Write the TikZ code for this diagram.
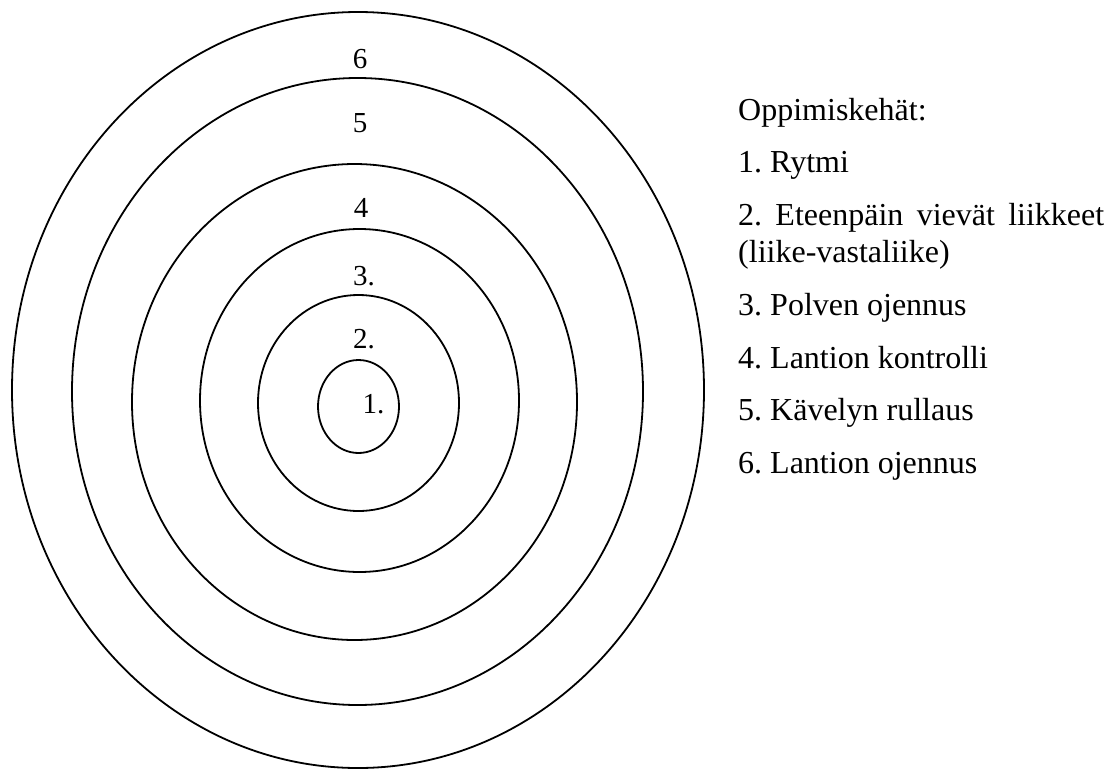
\documentclass[tikz,border=0pt]{standalone}
\usepackage{fontspec}
\setmainfont{Liberation Serif}
\frenchspacing
\begin{document}
\begin{tikzpicture}[x=1pt,y=-1pt,
  ring/.style={draw=black,line width=1.8pt},
  ringlabel/.style={anchor=base,inner sep=0pt,font=\fontsize{29}{34}\selectfont},
  listitem/.style={anchor=base west,inner sep=0pt,font=\fontsize{32}{38}\selectfont}]
  \useasboundingbox (0,0) rectangle (1119,769);

  % concentric learning rings, innermost first
  \draw[ring] (358.5,406.5) ellipse [x radius=40.5, y radius=46.5];
  \draw[ring] (358.5,403)   ellipse [x radius=100.5, y radius=108];
  \draw[ring] (359.5,400.5) ellipse [x radius=159.5, y radius=171.5];
  \draw[ring] (354.5,402)   ellipse [x radius=222.5, y radius=238];
  \draw[ring] (357.5,391.5) ellipse [x radius=285.5, y radius=313.5];
  \draw[ring] (358,390)     ellipse [x radius=346, y radius=378];

  % ring numbers
  \node[ringlabel] (r1) at (373.5,413) {1.};
  \node[ringlabel] (r2) at (364,348) {2.};
  \node[ringlabel] (r3) at (364,285) {3.};
  \node[ringlabel] (r4) at (361,217) {4};
  \node[ringlabel] (r5) at (360,132) {5};
  \node[ringlabel] (r6) at (360,68) {6};

  % legend
  \node[listitem] (title) at (738,120) {Oppimiskehät:};
  \node[listitem] (l1) at (738,172) {1. Rytmi};
  \node[listitem] (l2) at (738,225) {\makebox[366pt][s]{2. Eteenpäin vievät liikkeet}};
  \node[listitem] (l2b) at (738,262) {(liike-vastaliike)};
  \node[listitem] (l3) at (738,315) {3. Polven ojennus};
  \node[listitem] (l4) at (738,368) {4. Lantion kontrolli};
  \node[listitem] (l5) at (738,420) {5. Kävelyn rullaus};
  \node[listitem] (l6) at (738,473) {6. Lantion ojennus};
\end{tikzpicture}
\end{document}
